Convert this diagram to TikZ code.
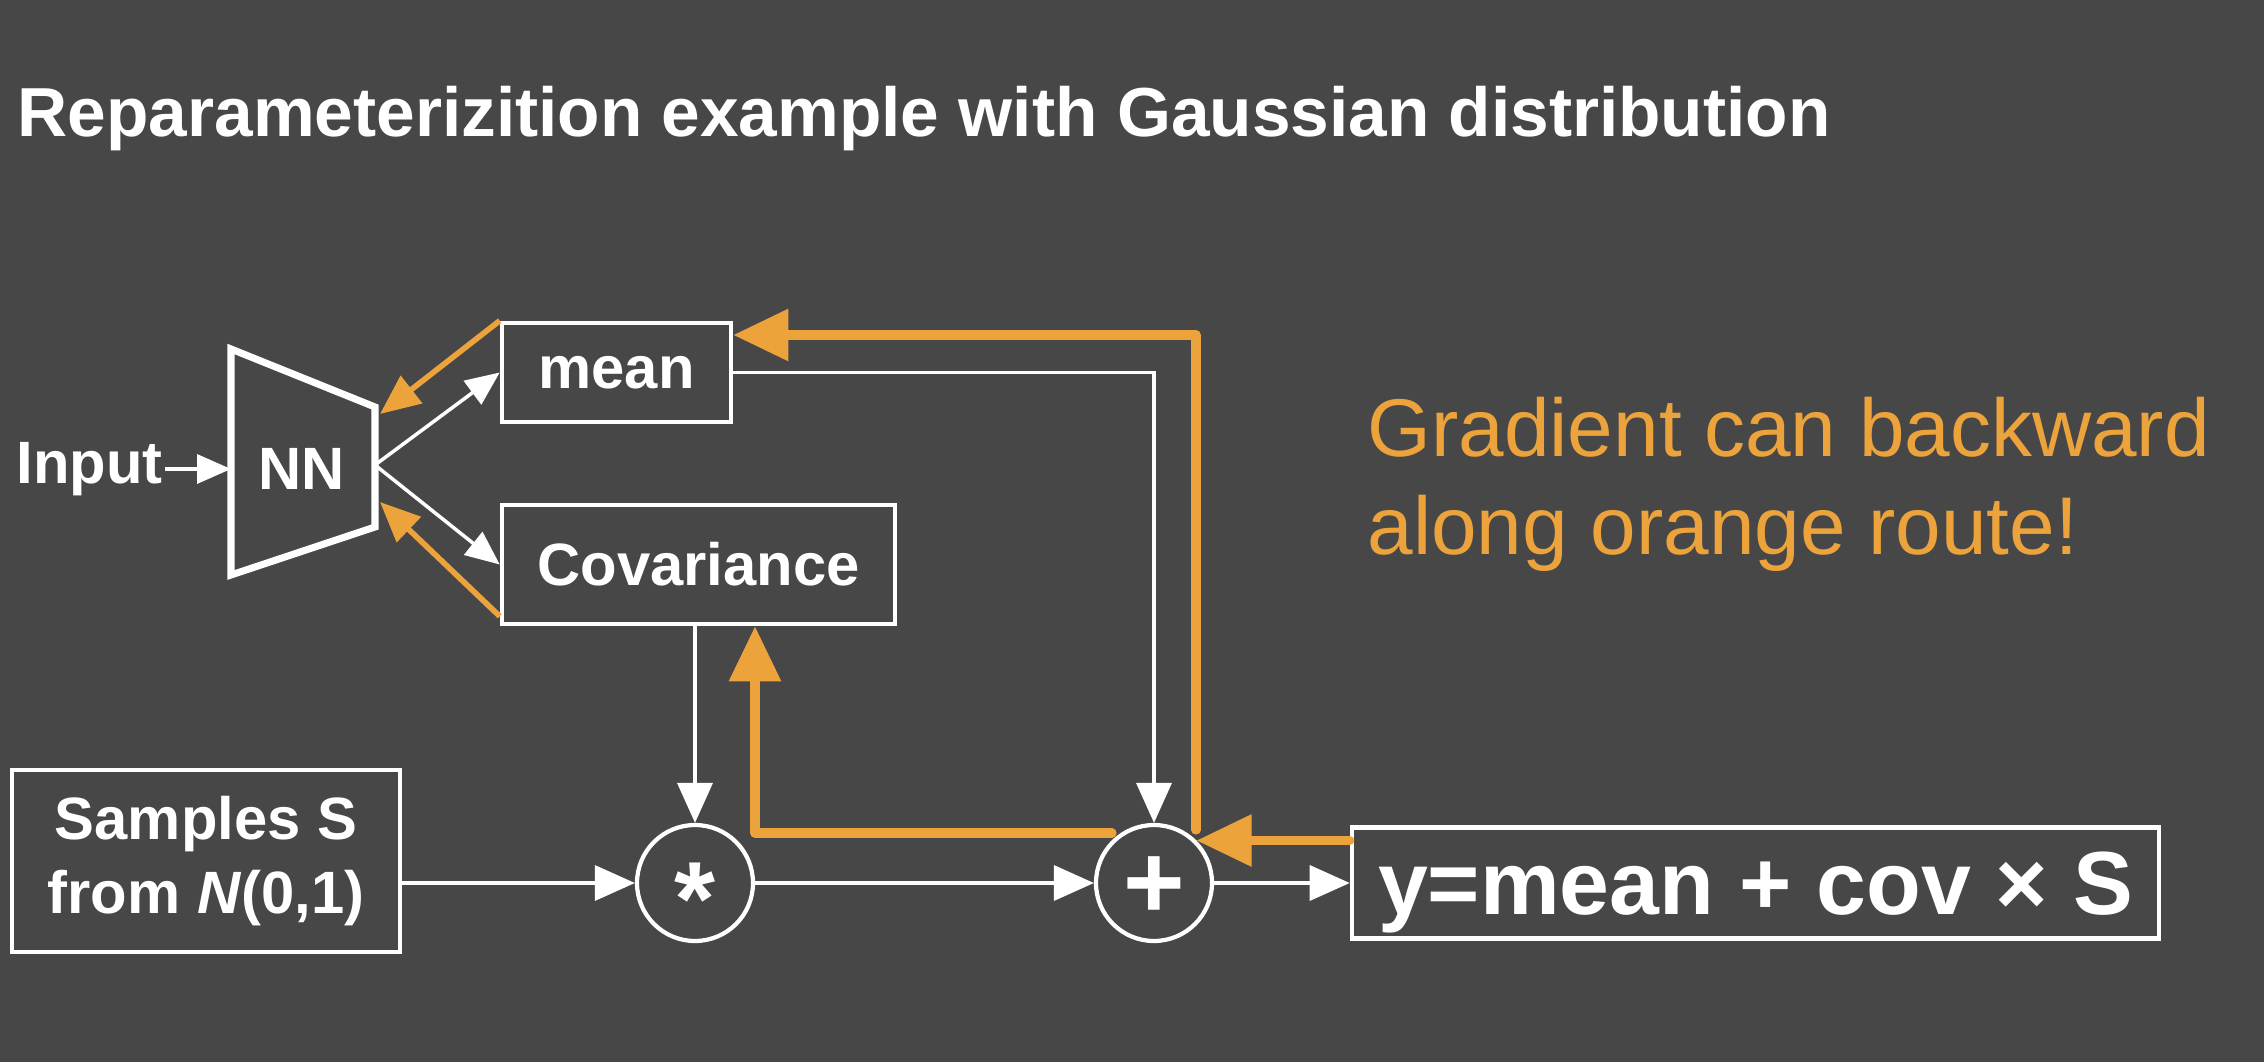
\documentclass[tikz,border=0pt]{standalone}
\usepackage{fontspec}
\setmainfont{Liberation Sans}
\usetikzlibrary{arrows.meta,positioning,calc}
\definecolor{bgCol}{HTML}{474747}
\definecolor{gradCol}{HTML}{ECA33C}
\definecolor{lineCol}{HTML}{FFFFFF}
\tikzstyle{block}=[draw=lineCol, line width=1.3pt, inner sep=0pt, text=lineCol, font=\bfseries\fontsize{17}{21.3}\selectfont]
\tikzstyle{opnode}=[circle, draw=lineCol, line width=1.2pt, minimum size=1.16cm, inner sep=0pt, text=lineCol]
\tikzstyle{connection}=[draw=lineCol, line width=1pt, -{Triangle[length=4mm,width=3.5mm]}]
\tikzstyle{branch}=[draw=lineCol, line width=1pt, -{Triangle[length=3.4mm,width=2.9mm]}]
\tikzstyle{gradient}=[draw=gradCol, line width=2.6pt, line cap=round, line join=round, -{Triangle[length=5.5mm,width=5mm]}]
\tikzstyle{gradbranch}=[draw=gradCol, line width=1.6pt, -{Triangle[length=4mm,width=3.4mm]}]

\begin{document}
\begin{tikzpicture}

    % ==== BACKGROUND ====
    \fill[bgCol] (0,0) rectangle (22.64,10.62);
    \useasboundingbox (0,0) rectangle (22.64,10.62);

    % ==== TITLE ====
    \node[anchor=base west, inner sep=0pt, text=lineCol, font=\bfseries\fontsize{19.75}{24}\selectfont] (title) at (0.17,9.25) {Reparameterizition example with Gaussian distribution};

    % === ENCODER ===
    \draw[lineCol, line width=2pt] (2.31,7.13) -- (3.75,6.55) -- (3.75,5.35) -- (2.31,4.87) -- cycle;
    \node[block, draw=none] (nn) at (3.02,5.93) {NN};
    \coordinate (nnin)  at (2.31,5.93);
    \coordinate (nnout) at (3.75,5.97);
    \coordinate (nnTR)  at (3.80,6.48);
    \coordinate (nnBR)  at (3.80,5.60);
    \node[block, draw=none, anchor=east] (input) at (1.65,5.93) {Input};

    \node[block, minimum width=2.29cm, minimum height=0.99cm] (mean) at (6.165,6.895) {mean};
    \node[block, minimum width=3.93cm, minimum height=1.19cm] (cov) at (6.985,4.975) {Covariance};

    % === SAMPLING ===
    \node[block, align=center, minimum width=3.88cm, minimum height=1.82cm] (samples) at (2.06,2.01) {Samples S\\from \textit{N}(0,1)};
    \node[opnode, font=\bfseries\fontsize{30}{30}\selectfont] (mult) at (6.95,1.79) {\smash{\raisebox{-0.5em}{*}}};
    \node[opnode, font=\bfseries\fontsize{30}{30}\selectfont] (plus) at (11.54,1.79) {\smash{\raisebox{-0.34em}{+}}};

    % === OUTPUT ===
    \node[block, text depth=0pt, font=\bfseries\fontsize{25.5}{30}\selectfont, minimum width=8.07cm, minimum height=1.11cm] (ybox) at (17.555,1.79) {y=mean + cov × S};

    \node[anchor=west, inner sep=0pt, align=left, text=gradCol, font=\fontsize{23.3}{27.8}\selectfont] (note) at (13.67,5.78) {Gradient can backward\\along orange route!};

    % ==== CONNECTIONS ====
    \draw[branch] (input.east |- nnin) -- (nnin);
    \draw[branch] (nnout) -- (mean.west);
    \draw[branch] (nnout) -- (cov.west);
    \draw[connection] (samples.east |- mult.west) -- (mult.west);
    \draw[connection] (mult.north |- cov.south) -- (mult.north);
    \draw[connection] (mult.east) -- (plus.west);
    \draw[connection] (mean.east) -| (plus.north);
    \draw[connection] (plus.east) -- (ybox.west);

    % === GRADIENT ROUTE ===
    \coordinate (upR) at (11.96,2.32);
    \coordinate (upL) at (11.12,2.29);
    \draw[gradient] (ybox.west |- plus.45) -- (plus.45);
    \draw[gradient] (upR) |- ([yshift=3.75mm]mean.east);
    \draw[gradient] (upL) -| ([xshift=5.65mm]cov.south);
    \draw[gradbranch] (mean.north west) -- (nnTR);
    \draw[gradbranch] ([yshift=1mm]cov.south west) -- (nnBR);

\end{tikzpicture}
\end{document}
